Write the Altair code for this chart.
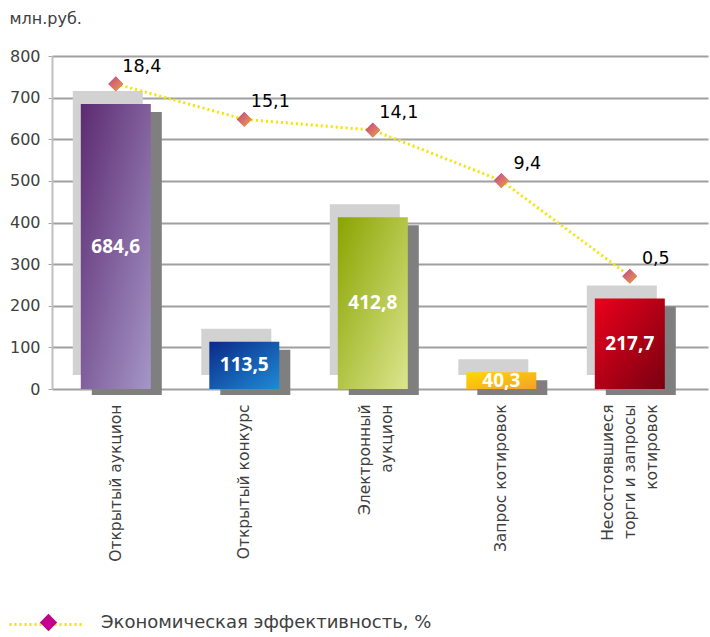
import altair as alt
import pandas as pd

categories = ["Открытый аукцион", "Открытый конкурс", "Электронный\nаукцион",
              "Запрос котировок", "Несостоявшиеся\nторги и запросы\nкотировок"]
amounts = [684.6, 113.5, 412.8, 40.3, 217.7]
efficiency = [18.4, 15.1, 14.1, 9.4, 0.5]
y_ticks = [0, 100, 200, 300, 400, 500, 600, 700, 800]
series_name = "Экономическая эффективность, %"
y_title = "млн.руб."

bar_stops = [
    ("#5c2a70", "#a596c8"),
    ("#0a2a88", "#1f8ad6"),
    ("#8aa400", "#dbe68e"),
    ("#ffd800", "#f2a22a"),
    ("#ec001c", "#780010"),
]

FONT = "DejaVu Sans"
BFONT = "Open Sans"
GREY = "#404040"
LEGEND_DIAMOND = "#c4008a"


def grad(c0, c1):
    return alt.Gradient(gradient="linear", x1=0, y1=0, x2=1, y2=1,
                        stops=[alt.GradientStop(offset=0, color=c0),
                               alt.GradientStop(offset=1, color=c1)])


df = pd.DataFrame({
    "cat": categories,
    "amount": amounts,
    "eff": efficiency,
    "idx": list(range(len(categories))),
})
df["amount_label"] = [f"{v:.1f}".replace(".", ",") for v in amounts]
df["eff_label"] = [f"{v:.1f}".replace(".", ",") for v in efficiency]
df["series"] = series_name

label_offset = {
    "condition": [
        {"test": "length(split(datum.label, '\\n')) >= 3", "value": -22},
        {"test": "length(split(datum.label, '\\n')) == 2", "value": -8},
    ],
    "value": 0,
}

xscale = alt.Scale(domain=categories, paddingInner=0.455, paddingOuter=0.28, align=0.4)
x_enc = alt.X("cat:N", scale=xscale, sort=None, axis=alt.Axis(
    title=None, labelAngle=-90, domain=False, ticks=False, labelPadding=15,
    labelFontSize=15.5, labelColor=GREY, labelFont=FONT, labelLimit=0,
    labelLineHeight=22, labelOffset=label_offset,
    labelExpr="split(datum.label, '\\n')"))

yscale = alt.Scale(domain=[0, 800], nice=False)
y_enc = alt.Y("amount:Q", scale=yscale, axis=alt.Axis(
    values=y_ticks, title=y_title, titleAngle=0, titleX=-43, titleY=-38,
    titleAlign="left", titleBaseline="middle", titleFontSize=16,
    titleFontWeight="normal", titleColor=GREY, titleFont=FONT,
    labelFontSize=16, labelColor=GREY, labelFont=FONT, labelPadding=8,
    tickSize=4, tickColor="#a8a8a8", domainColor="#c0c0c0", domainWidth=2,
    gridColor="#a0a0a0", gridWidth=2))

base = alt.Chart(df)

light = base.mark_bar(color="#d2d2d2", size=70, xOffset=-8, yOffset=-13, y2Offset=-14).encode(
    x=x_enc, y=y_enc, y2=alt.datum(0))
dark = base.mark_bar(color="#7f7f7f", size=70, xOffset=11, yOffset=8, y2Offset=6).encode(
    x=x_enc, y=alt.Y("amount:Q", scale=yscale), y2=alt.datum(0))

fronts = []
for i, (c0, c1) in enumerate(bar_stops):
    fronts.append(base.transform_filter(alt.datum.idx == i).mark_bar(
        size=70, color=grad(c0, c1)).encode(x=x_enc, y=alt.Y("amount:Q", scale=yscale)))

bar_text = base.transform_calculate(mid="datum.amount / 2").mark_text(
    color="white", fontWeight="bold", fontSize=19, font=BFONT).encode(
    x=x_enc, y=alt.Y("mid:Q", scale=yscale), text="amount_label:N")

bars = alt.layer(light, dark, *fronts, bar_text)

escale = alt.Scale(domain=[-10, 21], nice=False, zero=False)
e_enc = alt.Y("eff:Q", scale=escale, axis=None)

line = base.mark_line(strokeDash=[2, 3], strokeWidth=3).encode(
    x=x_enc, y=e_enc,
    color=alt.Color("series:N", scale=alt.Scale(range=["#f4e400"]), legend=alt.Legend(
        title=None, orient="none", legendX=-44, legendY=530, symbolType="stroke",
        symbolSize=5476, symbolStrokeWidth=3, symbolDash=[2, 3], labelExpr="''",
        padding=0)))

# legend-carrying diamonds (solid magenta), covered by the gradient diamonds below
legend_points = base.mark_point(filled=True, size=200, fill=LEGEND_DIAMOND, opacity=1).encode(
    x=x_enc, y=e_enc,
    shape=alt.Shape("series:N", scale=alt.Scale(range=["diamond"]), legend=alt.Legend(
        title=None, orient="none", legendX=-13, legendY=557, symbolSize=300,
        symbolFillColor=LEGEND_DIAMOND, symbolStrokeColor=LEGEND_DIAMOND, labelOffset=43,
        labelFontSize=18, labelColor=GREY, labelFont=FONT, padding=0, labelLimit=0)))

diamond_grad = grad("#c63f8f", "#eaa640")
points = base.mark_point(filled=True, size=230, fill=diamond_grad, opacity=1,
                         shape="diamond").encode(x=x_enc, y=e_enc)

eff_text = base.mark_text(align="center", dx=26, dy=-17, fontSize=17.5, color="black",
                          font=FONT).encode(x=x_enc, y=e_enc, text="eff_label:N")

lines = alt.layer(line, legend_points, points, eff_text)

chart = alt.layer(bars, lines).resolve_scale(y="independent").properties(
    width=656, height=333,
    autosize=alt.AutoSizeParams(type="none"),
    padding={"left": 52, "top": 56, "right": 2, "bottom": 248},
    background="white",
).configure_view(stroke=None)

chart.save("out.html", embed_options={"renderer": "svg", "actions": False})
